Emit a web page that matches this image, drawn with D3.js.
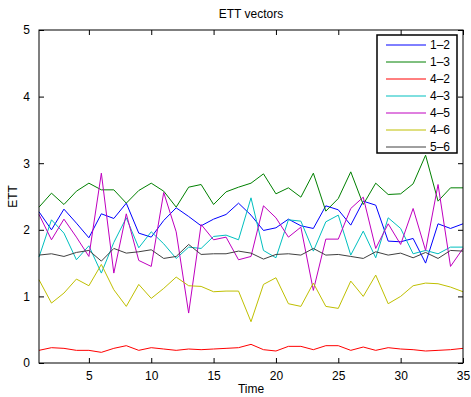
<!DOCTYPE html>
<html>
<head>
<meta charset="utf-8">
<script src="https://cdn.jsdelivr.net/npm/d3@7"></script>
<style>
  body { margin: 0; background: #fff; }
  svg { font-family: "Liberation Sans", Arial, sans-serif; }
</style>
</head>
<body>
<div id="chart"></div>
<script>
// data
const times = d3.range(1, 36);
const seriesNames = ["1–2", "1–3", "4–2", "4–3", "4–5", "4–6", "5–6"];
const colors = ["#0000ff", "#008000", "#ff0000", "#00bfbf", "#bf00bf", "#bfbf00", "#404040"];

const s12 = [2.27, 2.0, 2.31, 2.1, 1.88, 2.24, 2.17, 2.4, 1.95, 1.89, 2.14, 2.33, 2.2, 2.06, 2.16, 2.23, 2.4, 2.22, 1.99, 2.03, 2.16, 2.06, 2.02, 2.36, 2.3, 2.07, 2.43, 2.37, 1.83, 1.82, 1.87, 1.5, 2.09, 2.02, 2.09];
const s13 = [2.34, 2.55, 2.38, 2.58, 2.7, 2.6, 2.6, 2.4, 2.59, 2.7, 2.58, 2.34, 2.64, 2.68, 2.38, 2.57, 2.64, 2.7, 2.84, 2.54, 2.63, 2.49, 2.85, 2.28, 2.47, 2.87, 2.38, 2.7, 2.53, 2.54, 2.69, 3.12, 2.43, 2.63, 2.63];
const s42 = [0.19, 0.23, 0.22, 0.19, 0.19, 0.16, 0.22, 0.26, 0.19, 0.23, 0.21, 0.19, 0.21, 0.2, 0.21, 0.22, 0.23, 0.28, 0.2, 0.18, 0.25, 0.25, 0.2, 0.26, 0.26, 0.19, 0.24, 0.19, 0.23, 0.21, 0.2, 0.18, 0.19, 0.2, 0.22];
const s43 = [1.59, 2.15, 1.95, 1.55, 1.76, 1.35, 1.81, 2.18, 1.73, 1.97, 1.79, 1.57, 1.74, 1.72, 1.9, 1.92, 1.85, 2.48, 1.69, 1.58, 2.15, 2.13, 1.68, 2.12, 2.22, 1.62, 1.98, 1.58, 2.18, 2.02, 1.64, 1.69, 1.64, 1.74, 1.74];
const s45 = [2.23, 1.85, 2.16, 1.89, 1.6, 2.85, 1.35, 2.24, 1.54, 1.45, 2.56, 1.97, 0.75, 2.08, 1.85, 1.89, 1.55, 1.6, 2.36, 2.18, 1.89, 2.04, 1.09, 1.86, 1.86, 2.32, 2.49, 1.72, 2.09, 1.78, 2.32, 1.69, 2.68, 1.45, 1.72];
const s46 = [1.25, 0.9, 1.05, 1.26, 1.16, 1.48, 1.1, 0.85, 1.18, 0.97, 1.12, 1.29, 1.16, 1.15, 1.07, 1.08, 1.08, 0.62, 1.18, 1.28, 0.89, 0.85, 1.2, 0.85, 0.82, 1.23, 1.0, 1.32, 0.89, 1.0, 1.16, 1.2, 1.19, 1.14, 1.07];
const s56 = [1.62, 1.64, 1.6, 1.66, 1.69, 1.53, 1.72, 1.65, 1.67, 1.7, 1.57, 1.6, 1.78, 1.63, 1.64, 1.64, 1.68, 1.65, 1.56, 1.63, 1.64, 1.62, 1.72, 1.62, 1.63, 1.6, 1.57, 1.67, 1.62, 1.65, 1.58, 1.66, 1.57, 1.69, 1.68];

const xTicks = [5, 10, 15, 20, 25, 30, 35];
const yTicks = [0, 1, 2, 3, 4, 5];

const allSeries = [s12, s13, s42, s43, s45, s46, s56];

const width = 471, height = 397;
const margin = {top: 30, right: 8, bottom: 34, left: 39};
const plotW = width - margin.left - margin.right;
const plotH = height - margin.top - margin.bottom;

const svg = d3.select("#chart").append("svg")
  .attr("width", width)
  .attr("height", height);

const x = d3.scaleLinear().domain([1, 35]).range([margin.left, margin.left + plotW]);
const y = d3.scaleLinear().domain([0, 5]).range([margin.top + plotH, margin.top]);

// lines
const line = d3.line()
  .x((d, i) => x(times[i]))
  .y(d => y(d));

allSeries.forEach((s, k) => {
  svg.append("path")
    .datum(s)
    .attr("d", line)
    .attr("fill", "none")
    .attr("stroke", colors[k])
    .attr("stroke-width", 1);
});

// axes, MATLAB style ticks pointing inward on all four sides
const tickLen = 5;
svg.append("g")
  .attr("transform", `translate(0,${margin.top + plotH})`)
  .call(d3.axisBottom(x).tickValues(xTicks).tickSize(-tickLen).tickPadding(8).tickFormat(d3.format("d")))
  .call(g => g.select(".domain").remove());
svg.append("g")
  .attr("transform", `translate(0,${margin.top})`)
  .call(d3.axisTop(x).tickValues(xTicks).tickSize(-tickLen).tickFormat(""))
  .call(g => g.select(".domain").remove());
svg.append("g")
  .attr("transform", `translate(${margin.left},0)`)
  .call(d3.axisLeft(y).tickValues(yTicks).tickSize(-tickLen).tickPadding(9).tickFormat(d3.format("d")))
  .call(g => g.select(".domain").remove());
svg.append("g")
  .attr("transform", `translate(${margin.left + plotW},0)`)
  .call(d3.axisRight(y).tickValues(yTicks).tickSize(-tickLen).tickFormat(""))
  .call(g => g.select(".domain").remove());

svg.selectAll(".tick text")
  .attr("font-size", 12)
  .attr("font-family", "Liberation Sans, Arial, sans-serif")
  .attr("fill", "#000");
svg.selectAll(".tick line").attr("stroke", "#000");

svg.append("rect")
  .attr("x", margin.left)
  .attr("y", margin.top)
  .attr("width", plotW)
  .attr("height", plotH)
  .attr("fill", "none")
  .attr("stroke", "#000")
  .attr("stroke-width", 1);

// titles
svg.append("text")
  .attr("x", margin.left + plotW / 2)
  .attr("y", 18)
  .attr("text-anchor", "middle")
  .attr("font-size", 12)
  .text("ETT vectors");
svg.append("text")
  .attr("x", margin.left + plotW / 2)
  .attr("y", 393)
  .attr("text-anchor", "middle")
  .attr("font-size", 12)
  .text("Time");
svg.append("text")
  .attr("transform", `translate(17,${margin.top + plotH / 2}) rotate(-90)`)
  .attr("text-anchor", "middle")
  .attr("font-size", 12)
  .text("ETT");

// legend
const lx = 377, ly = 35, lw = 80, lh = 118;
svg.append("rect")
  .attr("x", lx).attr("y", ly)
  .attr("width", lw).attr("height", lh)
  .attr("fill", "#fff")
  .attr("stroke", "#000")
  .attr("stroke-width", 1.5);

const rowH = 17;
seriesNames.forEach((name, k) => {
  const ry = ly + 10 + k * rowH;
  svg.append("line")
    .attr("x1", lx + 9).attr("x2", lx + 49)
    .attr("y1", ry).attr("y2", ry)
    .attr("stroke", colors[k])
    .attr("stroke-width", 1);
  svg.append("text")
    .attr("x", lx + 53)
    .attr("y", ry + 4)
    .attr("font-size", 12)
    .text(name);
});
</script>
</body>
</html>
